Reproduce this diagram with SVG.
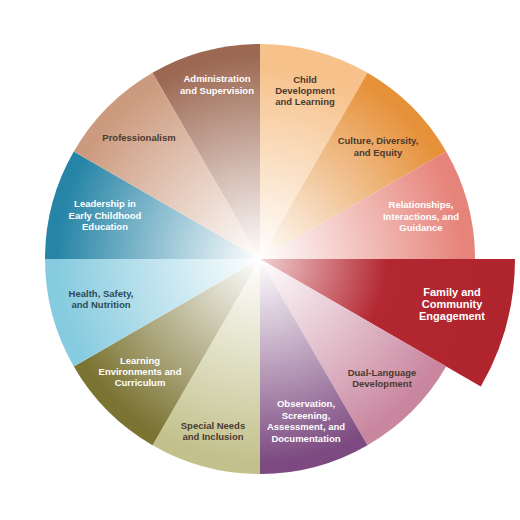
<svg xmlns="http://www.w3.org/2000/svg" width="520" height="520" viewBox="0 0 520 520">
<defs>
<radialGradient id="gAdm" gradientUnits="userSpaceOnUse" cx="260" cy="259" r="215"><stop offset="0" stop-color="#fff"/><stop offset="0.95" stop-color="#9c6852"/></radialGradient>
<radialGradient id="gChi" gradientUnits="userSpaceOnUse" cx="260" cy="259" r="215"><stop offset="0" stop-color="#fff"/><stop offset="0.9" stop-color="#f6c18a"/></radialGradient>
<radialGradient id="gCul" gradientUnits="userSpaceOnUse" cx="260" cy="259" r="215"><stop offset="0" stop-color="#fff"/><stop offset="0.95" stop-color="#e6913a"/></radialGradient>
<radialGradient id="gRel" gradientUnits="userSpaceOnUse" cx="260" cy="259" r="215"><stop offset="0" stop-color="#fff"/><stop offset="0.95" stop-color="#e6837a"/></radialGradient>
<radialGradient id="gFam" gradientUnits="userSpaceOnUse" cx="260" cy="259" r="255"><stop offset="0" stop-color="#f2d0d2"/><stop offset="0.5" stop-color="#b32731"/><stop offset="1" stop-color="#b0242e"/></radialGradient>
<radialGradient id="gDua" gradientUnits="userSpaceOnUse" cx="260" cy="259" r="215"><stop offset="0" stop-color="#fff"/><stop offset="0.95" stop-color="#c9879f"/></radialGradient>
<radialGradient id="gObs" gradientUnits="userSpaceOnUse" cx="260" cy="259" r="215"><stop offset="0" stop-color="#fff"/><stop offset="0.95" stop-color="#7c4a80"/></radialGradient>
<radialGradient id="gSpe" gradientUnits="userSpaceOnUse" cx="260" cy="259" r="215"><stop offset="0" stop-color="#fff"/><stop offset="0.95" stop-color="#c2c18c"/></radialGradient>
<radialGradient id="gLea" gradientUnits="userSpaceOnUse" cx="260" cy="259" r="215"><stop offset="0" stop-color="#fff"/><stop offset="0.95" stop-color="#7b7332"/></radialGradient>
<radialGradient id="gHea" gradientUnits="userSpaceOnUse" cx="260" cy="259" r="215"><stop offset="0" stop-color="#fff"/><stop offset="0.95" stop-color="#86cbdf"/></radialGradient>
<radialGradient id="gLdr" gradientUnits="userSpaceOnUse" cx="260" cy="259" r="215"><stop offset="0" stop-color="#fff"/><stop offset="0.95" stop-color="#2684a6"/></radialGradient>
<radialGradient id="gPro" gradientUnits="userSpaceOnUse" cx="260" cy="259" r="215"><stop offset="0" stop-color="#fff"/><stop offset="0.95" stop-color="#cc9a7e"/></radialGradient>
</defs>
<style>
text{font-family:"Liberation Sans",Arial,sans-serif;font-weight:bold;font-size:9.5px;text-anchor:middle}
.w{fill:#ffffff}
.d{fill:#4a3a30}
.h{fill:#2f4a56}
.big{font-size:11px}
</style>
<rect width="520" height="520" fill="#ffffff"/>
<g id="administration">
<path d="M260,259 L152.5,72.8 A215,215 0 0 1 260,44 Z" fill="url(#gAdm)"/>
<text class="w" x="217" y="82">Administration<tspan x="217" dy="11.5">and Supervision</tspan></text>
</g>
<g id="child-development">
<path d="M260,259 L260,44 A215,215 0 0 1 367.5,72.8 Z" fill="url(#gChi)"/>
<text class="d" x="305" y="83">Child<tspan x="305" dy="11">Development</tspan><tspan x="305" dy="11">and Learning</tspan></text>
</g>
<g id="culture">
<path d="M260,259 L367.5,72.8 A215,215 0 0 1 446.2,151.5 Z" fill="url(#gCul)"/>
<text class="d" x="378" y="144">Culture, Diversity,<tspan x="378" dy="11.5">and Equity</tspan></text>
</g>
<g id="relationships">
<path d="M260,259 L446.2,151.5 A215,215 0 0 1 475,259 Z" fill="url(#gRel)"/>
<text class="w" x="421" y="208">Relationships,<tspan x="421" dy="11.5">Interactions, and</tspan><tspan x="421" dy="11.5">Guidance</tspan></text>
</g>
<g id="family">
<path d="M260,259 L515,259 A255,255 0 0 1 480.8,386.5 Z" fill="url(#gFam)"/>
<text class="w big" x="452" y="296">Family and<tspan x="452" dy="12">Community</tspan><tspan x="452" dy="12">Engagement</tspan></text>
</g>
<g id="dual-language">
<path d="M260,259 L446.2,366.5 A215,215 0 0 1 367.5,445.2 Z" fill="url(#gDua)"/>
<text class="d" x="382" y="376">Dual-Language<tspan x="382" dy="11">Development</tspan></text>
</g>
<g id="observation">
<path d="M260,259 L367.5,445.2 A215,215 0 0 1 260,474 Z" fill="url(#gObs)"/>
<text class="w" x="306" y="407">Observation,<tspan x="306" dy="11.5">Screening,</tspan><tspan x="306" dy="11.5">Assessment, and</tspan><tspan x="306" dy="11.5">Documentation</tspan></text>
</g>
<g id="special-needs">
<path d="M260,259 L260,474 A215,215 0 0 1 152.5,445.2 Z" fill="url(#gSpe)"/>
<text class="d" x="213" y="429">Special Needs<tspan x="213" dy="11">and Inclusion</tspan></text>
</g>
<g id="learning-environments">
<path d="M260,259 L152.5,445.2 A215,215 0 0 1 73.8,366.5 Z" fill="url(#gLea)"/>
<text class="w" x="140" y="364">Learning<tspan x="140" dy="11">Environments and</tspan><tspan x="140" dy="11">Curriculum</tspan></text>
</g>
<g id="health">
<path d="M260,259 L73.8,366.5 A215,215 0 0 1 45,259 Z" fill="url(#gHea)"/>
<text class="h" x="101" y="297">Health, Safety,<tspan x="101" dy="11">and Nutrition</tspan></text>
</g>
<g id="leadership">
<path d="M260,259 L45,259 A215,215 0 0 1 73.8,151.5 Z" fill="url(#gLdr)"/>
<text class="w" x="105" y="207">Leadership in<tspan x="105" dy="11.5">Early Childhood</tspan><tspan x="105" dy="11.5">Education</tspan></text>
</g>
<g id="professionalism">
<path d="M260,259 L73.8,151.5 A215,215 0 0 1 152.5,72.8 Z" fill="url(#gPro)"/>
<text class="d" x="139" y="141">Professionalism</text>
</g>
</svg>
